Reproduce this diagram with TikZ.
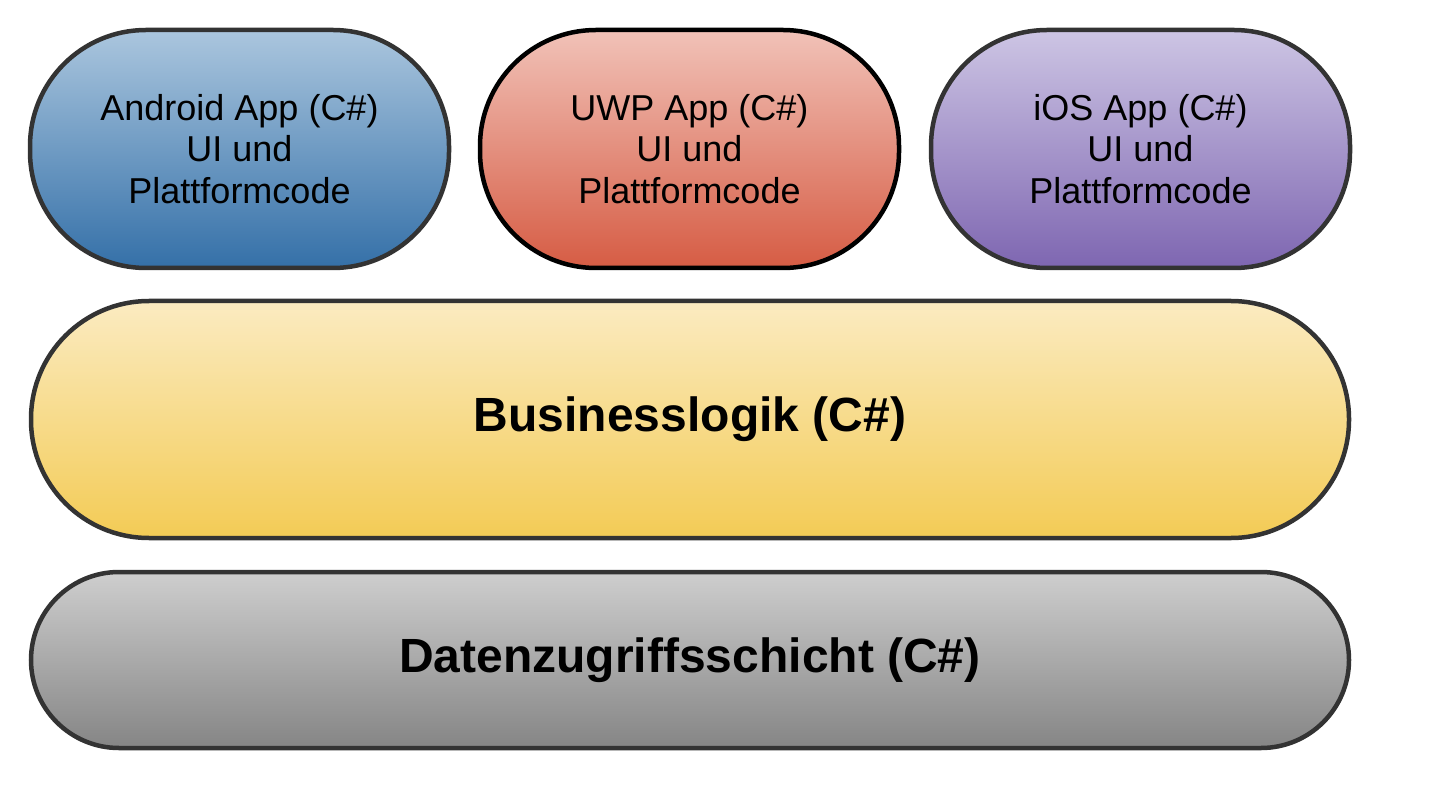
\documentclass[tikz,border=0pt]{standalone}
\usepackage{fontspec}
\setmainfont{Liberation Sans}
\definecolor{andtop}{HTML}{ABC6DE}
\definecolor{andbot}{HTML}{3470A8}
\definecolor{uwptop}{HTML}{F1C2B8}
\definecolor{uwpbot}{HTML}{D65C44}
\definecolor{iostop}{HTML}{CDC5E4}
\definecolor{iosbot}{HTML}{7E66B1}
\definecolor{bustop}{HTML}{FBEBC1}
\definecolor{busbot}{HTML}{F3CB55}
\definecolor{dattop}{HTML}{CECECE}
\definecolor{datbot}{HTML}{858585}
\definecolor{edge}{HTML}{333333}
\tikzset{
  appbox/.style={draw=edge, line width=4.5pt, rounded corners=116pt,
    minimum width=419pt, minimum height=238pt, inner sep=0pt, align=center,
    font=\fontsize{36}{41.5}\selectfont},
  layerbox/.style={draw=edge, line width=4.5pt, inner sep=0pt,
    minimum width=1318pt, font=\fontsize{48}{55}\selectfont\bfseries},
}
\begin{document}
\begin{tikzpicture}[x=1pt,y=-1pt]
\useasboundingbox (0,0) rectangle (1432,810);
\node[appbox, top color=andtop, bottom color=andbot] (android) at (239.5,149)
  {Android App (C\#)\\UI und\\Plattformcode};
\node[appbox, draw=black, top color=uwptop, bottom color=uwpbot] (uwp) at (689.5,149)
  {UWP App (C\#)\\UI und\\Plattformcode};
\node[appbox, top color=iostop, bottom color=iosbot] (ios) at (1140.5,149)
  {iOS App (C\#)\\UI und\\Plattformcode};
\node[layerbox, minimum height=237pt, rounded corners=118pt,
  top color=bustop, bottom color=busbot] (business) at (690,419.5)
  {Businesslogik (C\#)};
\node[layerbox, minimum height=176pt, rounded corners=88pt,
  top color=dattop, bottom color=datbot] (data) at (690,660)
  {Datenzugriffsschicht (C\#)};
\end{tikzpicture}
\end{document}
